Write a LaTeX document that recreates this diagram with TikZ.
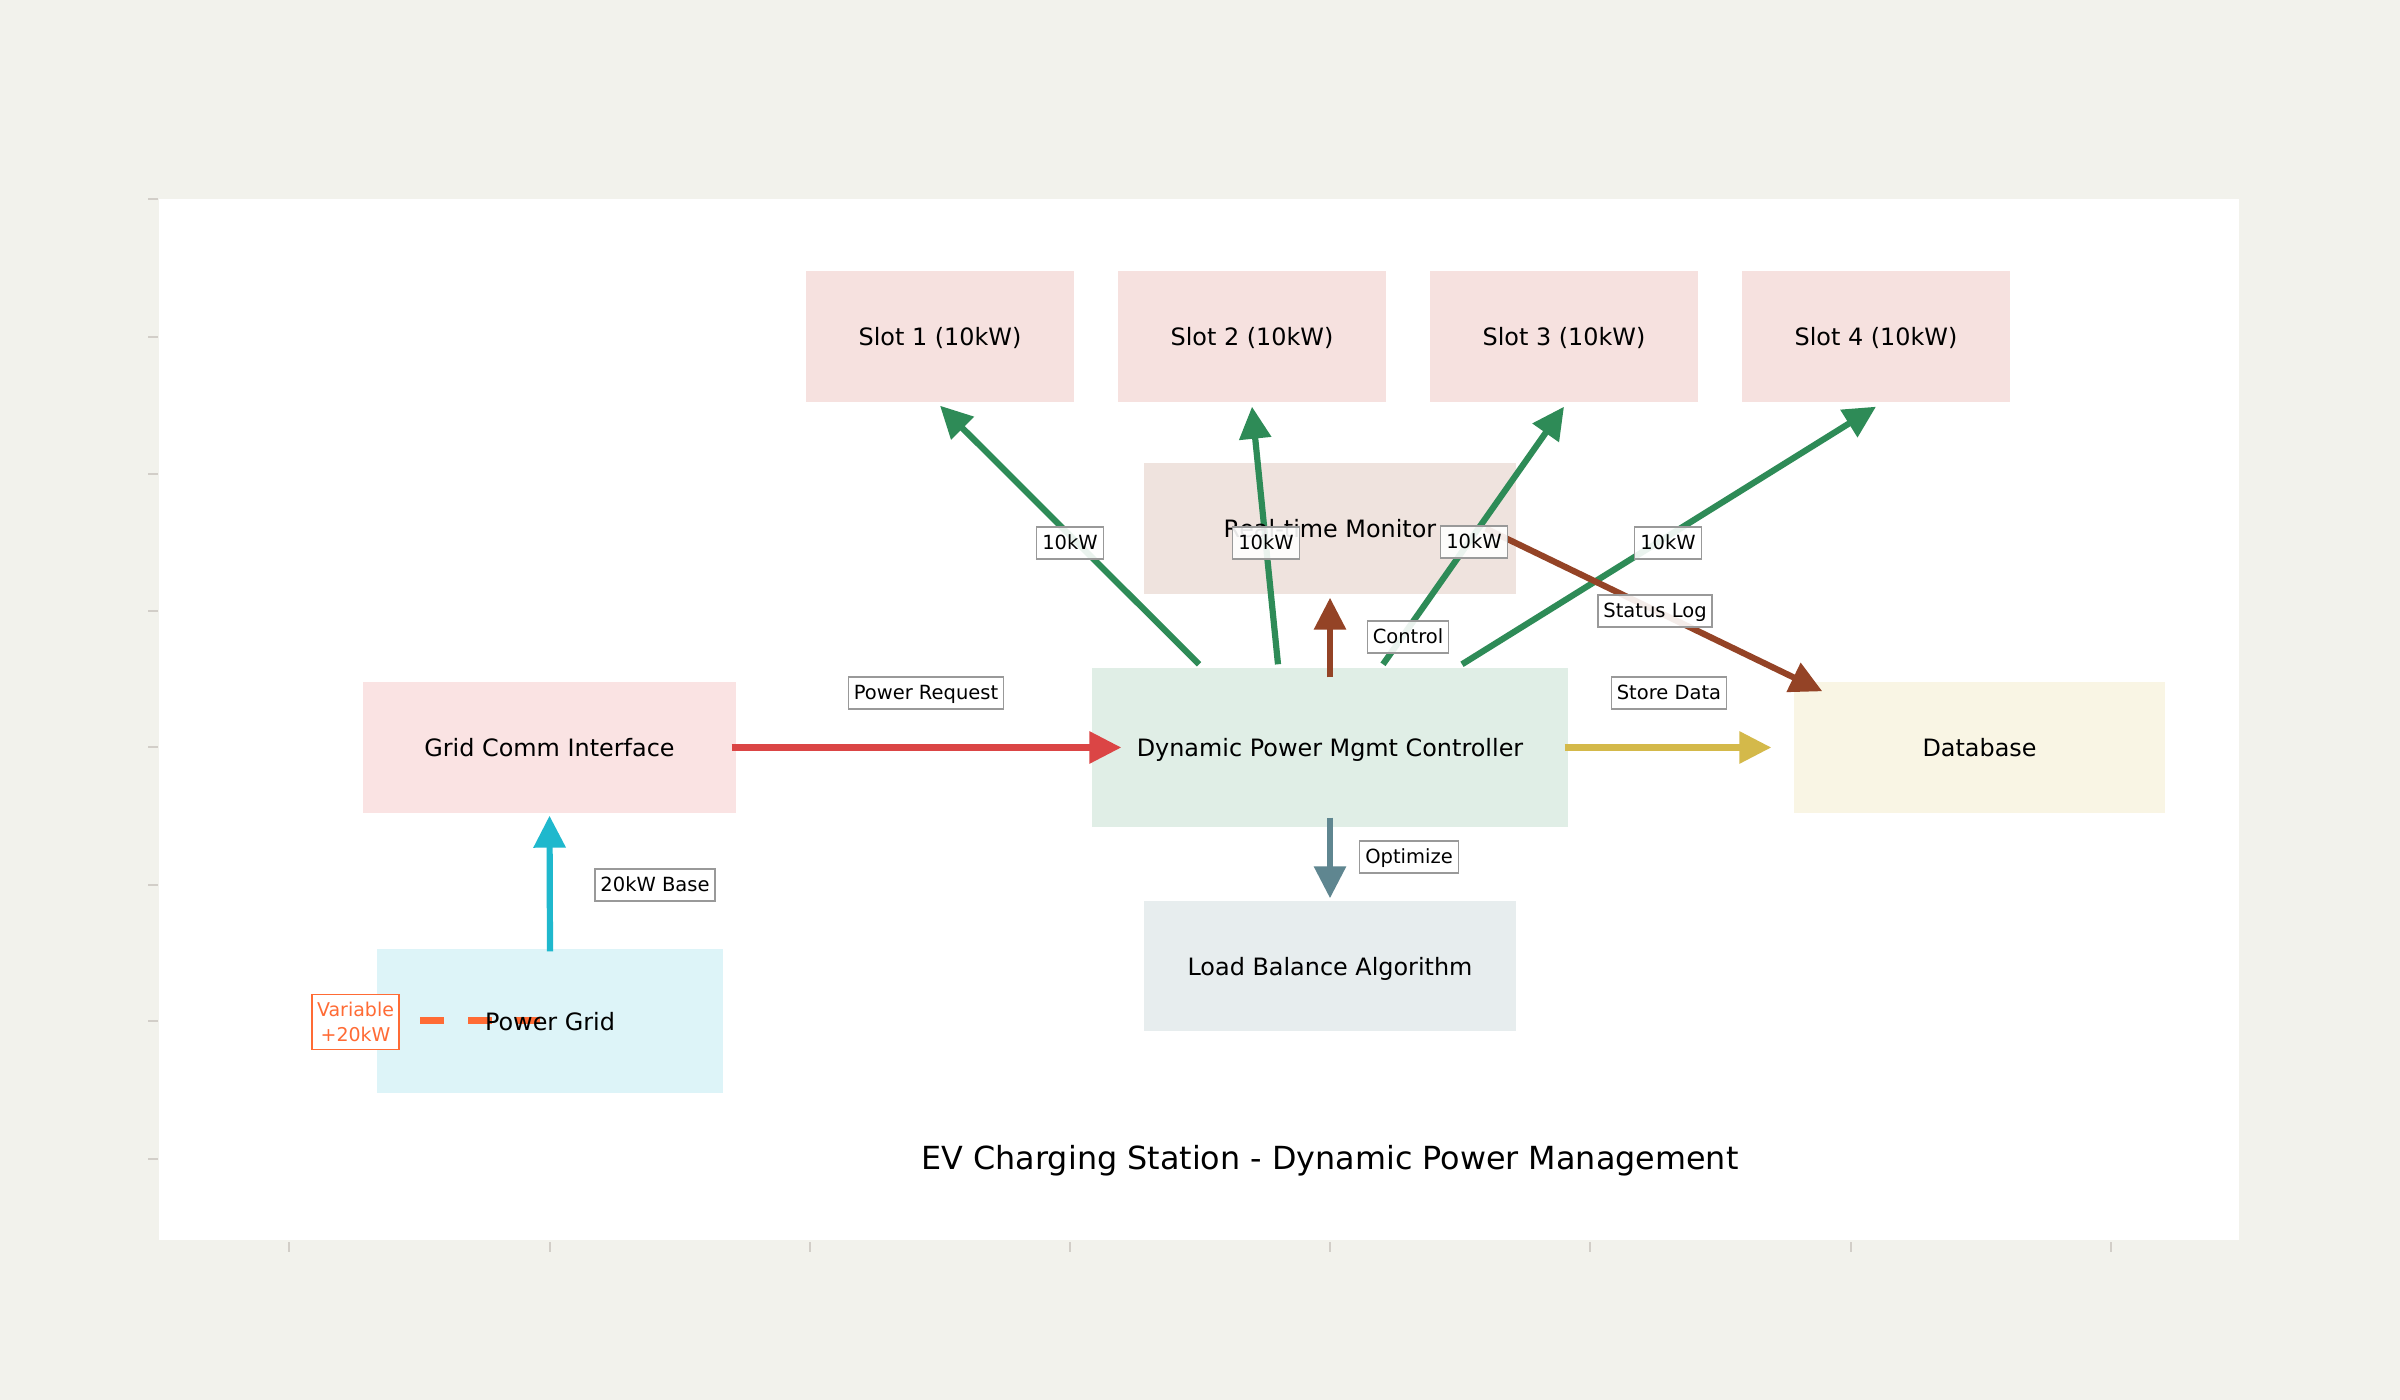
\documentclass[tikz,border=0pt]{standalone}
\usepackage{fontspec}
\setmainfont{DejaVu Sans}
\usetikzlibrary{arrows.meta}

\pgfdeclarelayer{fills}
\pgfdeclarelayer{links}
\pgfsetlayers{fills,links,main}

\definecolor{pagebg}{HTML}{F2F2EC}
\definecolor{tickgray}{HTML}{D2CEC8}
\definecolor{lblgray}{HTML}{999999}
\definecolor{slotred}{HTML}{C0392B}
\definecolor{reqred}{HTML}{DB4545}
\definecolor{feedgreen}{HTML}{2E8B57}
\definecolor{logbrown}{HTML}{944326}
\definecolor{dbyellow}{HTML}{D4B94A}
\definecolor{algslate}{HTML}{5F8690}
\definecolor{gridcyan}{HTML}{1FB8CD}
\definecolor{varorange}{HTML}{FF6B35}

\newcommand\boxfont{\fontsize{6.8pt}{8.2pt}\selectfont}
\newcommand\lblfont{\fontsize{5.55pt}{6.7pt}\selectfont}
\newcommand\varfont{\fontsize{5.4pt}{7.1pt}\selectfont}
\newcommand\ttlfont{\fontsize{9.05pt}{11pt}\selectfont}

\begin{document}
\begin{tikzpicture}[x=0.1mm, y=-0.1mm,
  box/.style={inner sep=0pt, font=\boxfont, text height=6.5pt, text depth=1.2pt},
  lbl/.style={draw=lblgray, line width=0.13mm, fill=white, fill opacity=0.9, text opacity=1,
    font=\lblfont, inner xsep=0.55mm, inner ysep=0.62mm, text height=4.6pt, text depth=0.9pt},
  flow/.style={line width=0.62mm, -{Triangle[length=3.2mm, width=3.1mm]}},
  axtick/.style={tickgray, line width=0.15mm}]
\useasboundingbox (0,0) rectangle (2400,1400);

% boxes
\node[box, minimum width=26.6mm, minimum height=12.9mm] (slot1) at (940,336.5) {Slot 1 (10kW)};
\node[box, minimum width=26.6mm, minimum height=12.9mm] (slot2) at (1252,336.5) {Slot 2 (10kW)};
\node[box, minimum width=26.6mm, minimum height=12.9mm] (slot3) at (1564,336.5) {Slot 3 (10kW)};
\node[box, minimum width=26.6mm, minimum height=12.9mm] (slot4) at (1876,336.5) {Slot 4 (10kW)};
\node[box, minimum width=37mm, minimum height=12.9mm] (mon) at (1330,528.5) {Real-time Monitor};
\node[box, minimum width=47.4mm, minimum height=15.7mm] (ctrl) at (1330,747.5) {Dynamic Power Mgmt Controller};
\node[box, minimum width=37.1mm, minimum height=12.9mm] (grid) at (549.5,747.5) {Grid Comm Interface};
\node[box, minimum width=36.9mm, minimum height=12.9mm] (db) at (1979.5,747.5) {Database};
\node[box, minimum width=37mm, minimum height=12.8mm] (alg) at (1330,966) {Load Balance Algorithm};
\node[box, minimum width=34.4mm, minimum height=14.2mm] (pgrid) at (550,1021) {Power Grid};

\begin{pgfonlayer}{fills}
\fill[pagebg] (0,0) rectangle (2400,1400);
\fill[white] (159,199) rectangle (2239,1240);
\foreach \t in {199,337,474,611,747,885,1021,1159}
  \draw[axtick] (148,\t) -- (158,\t);
\foreach \t in {289,550,810,1070,1330,1590,1851,2111}
  \draw[axtick] (\t,1242) -- (\t,1252);
\foreach \nm/\cl in {slot1/slotred, slot2/slotred, slot3/slotred, slot4/slotred, mon/logbrown,
    ctrl/feedgreen, grid/reqred, db/dbyellow, alg/algslate, pgrid/gridcyan}
  \fill[\cl!15] (\nm.south west) rectangle (\nm.north east);
\end{pgfonlayer}

% connectors
\begin{pgfonlayer}{links}
\draw[flow, feedgreen] ([xshift=-13.1mm, yshift=0.4mm]ctrl.north) -- ([yshift=-0.4mm]slot1.south);
\draw[flow, feedgreen] ([xshift=-5.2mm, yshift=0.4mm]ctrl.north) -- ([yshift=-0.5mm]slot2.south);
\draw[flow, feedgreen] ([xshift=5.3mm, yshift=0.4mm]ctrl.north) -- ([yshift=-0.5mm]slot3.south);
\draw[flow, feedgreen] ([xshift=13.2mm, yshift=0.4mm]ctrl.north) -- ([yshift=-0.5mm]slot4.south);
\draw[flow, logbrown] ([yshift=-0.9mm]ctrl.north) -- ([yshift=-0.4mm]mon.south);
\draw[flow, logbrown] ([xshift=-3mm]mon.east) -- ([xshift=2.8mm, yshift=-0.9mm]db.north west);
\draw[flow, reqred] ([xshift=-0.4mm]grid.east) -- ([xshift=2.9mm]ctrl.west);
\draw[flow, dbyellow] ([xshift=-0.3mm]ctrl.east) -- ([xshift=-2.3mm]db.west);
\draw[flow, algslate] ([yshift=0.9mm]ctrl.south) -- ([yshift=0.3mm]alg.north);
\draw[flow, gridcyan] ([yshift=-0.2mm]pgrid.north) -- ([yshift=-0.3mm]grid.south);
\draw[varorange, line width=0.7mm, dash pattern=on 2.4mm off 2.4mm, dash phase=3.15mm]
  (355.5,1021) -- (pgrid.center);
\end{pgfonlayer}

% labels
\node[lbl] (kw1) at (1070,543) {10kW};
\node[lbl] (kw2) at (1266,543) {10kW};
\node[lbl] (kw3) at (1474,542) {10kW};
\node[lbl] (kw4) at (1668,543) {10kW};
\node[lbl] (ctrllbl) at (1408,637) {Control};
\node[lbl] (loglbl) at (1655,611) {Status Log};
\node[lbl] (storelbl) at (1669,693) {Store Data};
\node[lbl] (reqlbl) at (926,693) {Power Request};
\node[lbl] (optlbl) at (1409,857) {Optimize};
\node[lbl] (baselbl) at (655,885) {20kW Base};
\node[draw=varorange, line width=0.18mm, fill=white, text=varorange, font=\varfont, align=center,
  inner sep=0pt, minimum width=8.7mm, minimum height=5.5mm] (var) at (355.5,1022) {Variable\\+20kW};

\node[font=\ttlfont, text height=6.9pt, text depth=2.1pt] (title) at (1330,1161)
  {EV Charging Station - Dynamic Power Management};
\end{tikzpicture}
\end{document}
